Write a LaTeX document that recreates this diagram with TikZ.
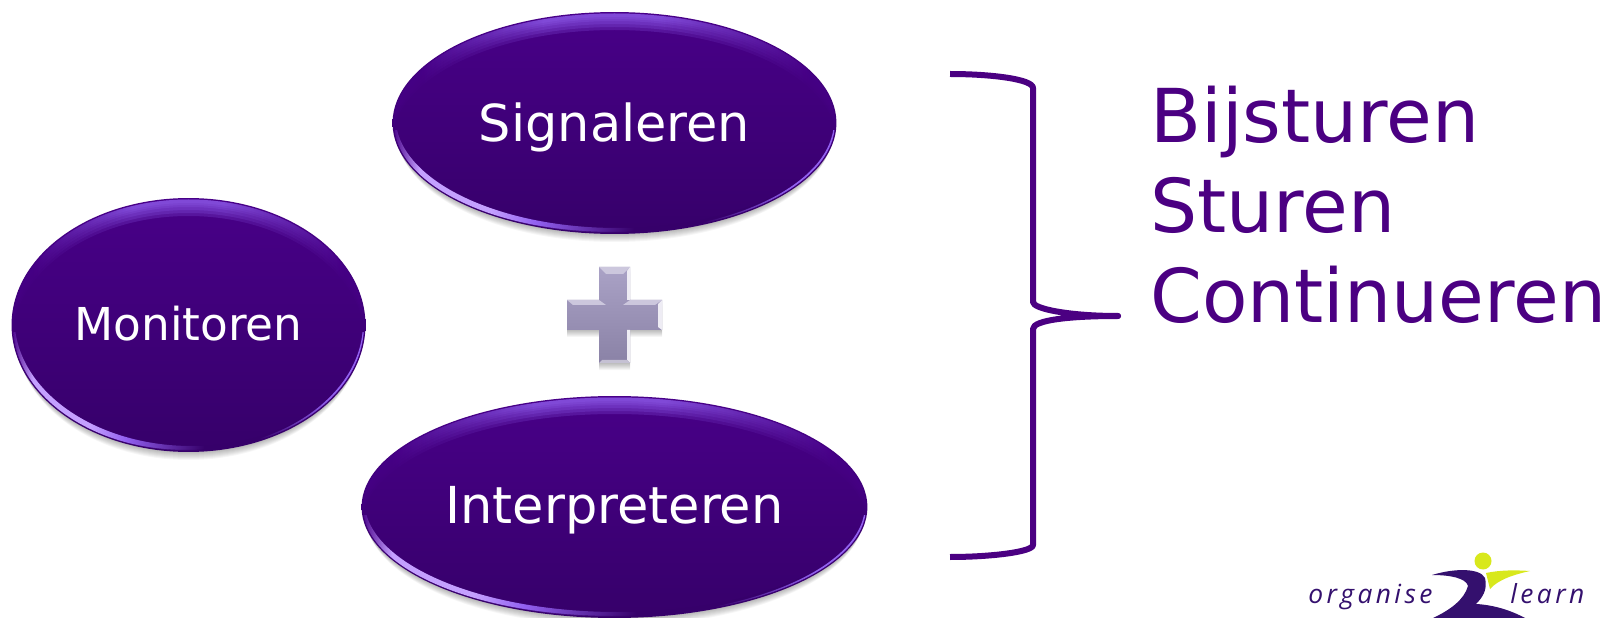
\documentclass[tikz,border=0pt]{standalone}
\usepackage{fontspec}
\setmainfont{DejaVu Sans}
\newfontfamily\logofont[LetterSpace=13]{Open Sans}
\usetikzlibrary{shapes.geometric}
\definecolor{ovaltop}{RGB}{72,0,136}
\definecolor{ovalbottom}{RGB}{54,0,106}
\definecolor{rimlight}{RGB}{146,96,240}
\definecolor{rimbright}{RGB}{196,160,255}
\definecolor{wordpurple}{RGB}{75,0,130}
\definecolor{logopurple}{RGB}{52,16,110}
\definecolor{logoyellow}{RGB}{216,232,28}
\definecolor{plustop}{RGB}{170,162,198}
\definecolor{plusbottom}{RGB}{138,130,166}
\pgfdeclarehorizontalshading{toprim}{100bp}{color(0bp)=(ovaltop); color(28bp)=(ovaltop); color(42bp)=(rimlight); color(55bp)=(rimlight); color(72bp)=(ovaltop); color(100bp)=(ovaltop)}
\pgfdeclarehorizontalshading{leftrim}{100bp}{color(0bp)=(ovaltop); color(25bp)=(ovaltop); color(28bp)=(rimbright); color(36bp)=(rimbright); color(41bp)=(rimlight); color(52bp)=(ovalbottom); color(100bp)=(ovalbottom)}
\pgfdeclarehorizontalshading{rightrim}{100bp}{color(0bp)=(ovalbottom); color(60bp)=(ovalbottom); color(70bp)=(rimlight); color(74bp)=(rimlight); color(100bp)=(rimlight)}
\tikzset{
  oval/.style={
    ellipse,
    top color=ovaltop,
    bottom color=ovalbottom,
    text=white,
    inner sep=0pt,
    font=\fontsize{29}{29}\selectfont
  },
  outcome/.style={
    anchor=base west,
    inner sep=0pt,
    text=wordpurple,
    font=\fontsize{42.3}{42.3}\selectfont
  },
  logotext/.style={
    anchor=base west,
    inner sep=0pt,
    text=logopurple,
    font=\logofont\itshape\fontsize{15}{15}\selectfont
  },
  bracket/.style={
    draw=wordpurple,
    line width=0.12cm,
    line join=round
  }
}
% soft shadow under an oval: x, y, x radius, y radius
\newcommand{\ovalshadow}[4]{
  \foreach \d in {1,...,8}
    \fill[black, opacity=0.035] (#1,#2+\d) ellipse [x radius=#3-\d/2, y radius=#4];
}
% glossy rims of an oval: x, y, x radius, y radius
\newcommand{\ovalrims}[4]{
  \begin{scope}
    \clip (#1,#2) ellipse [x radius=#3-1.5, y radius=#4-1.5];
    \foreach \s in {18,15,12,9,7,5}
      \shade[shading=toprim, even odd rule, opacity=0.22]
        (#1,#2) ellipse [x radius=#3, y radius=#4]
        (#1,#2+\s) ellipse [x radius=#3, y radius=#4];
    \clip (#1-#3,#2+8) rectangle (#1+#3,#2+#4);
    \shade[shading=leftrim, even odd rule]
      (#1,#2) ellipse [x radius=#3, y radius=#4]
      (#1+3,#2-6) ellipse [x radius=#3, y radius=#4];
    \shade[shading=rightrim, even odd rule]
      (#1,#2) ellipse [x radius=#3, y radius=#4]
      (#1-2.5,#2-2) ellipse [x radius=#3, y radius=#4];
  \end{scope}
}

\begin{document}
\begin{tikzpicture}[x=0.02cm, y=-0.02cm]
  \useasboundingbox (0,0) rectangle (1610,618);
  \fill[white] (0,0) rectangle (1610,618);
  % Ovals
  \ovalshadow{188.5}{325}{177}{127}
  \ovalshadow{614.5}{123}{222}{111}
  \ovalshadow{614.5}{507}{253}{111}
  \node[oval, minimum width=7.08cm, minimum height=5.08cm, text height=0.64cm, text depth=0pt,
    font=\fontsize{25.8}{25.8}\selectfont] (monitoren) at (188.5,325) {Monitoren};
  \node[oval, minimum width=8.88cm, minimum height=4.44cm, text height=0.76cm, text depth=0pt]
    (signaleren) at (614.5,123) {Signaleren};
  \node[oval, minimum width=10.12cm, minimum height=4.44cm, text height=0.68cm, text depth=0pt]
    (interpreteren) at (614.5,507) {Interpreteren};
  \ovalrims{188.5}{325}{177}{127}
  \ovalrims{614.5}{123}{222}{111}
  \ovalrims{614.5}{507}{253}{111}
  % Plus sign
  \foreach \d in {1,...,7}
    \fill[black, opacity=0.04] (599,267+\d) -- (630,267+\d) -- (630,300+\d) -- (662,300+\d)
      -- (662,330+\d) -- (630,330+\d) -- (630,363+\d) -- (599,363+\d) -- (599,330+\d)
      -- (567,330+\d) -- (567,300+\d) -- (599,300+\d) -- cycle;
  \shade[top color=plustop, bottom color=plusbottom]
    (599,267) -- (630,267) -- (630,300) -- (662,300) -- (662,330) -- (630,330)
    -- (630,363) -- (599,363) -- (599,330) -- (567,330) -- (567,300) -- (599,300) -- cycle;
  \fill[plustop!60!white] (599,267) -- (630,267) -- (623,274) -- (606,274) -- cycle;
  \fill[plustop!60!white] (567,300) -- (599,300) -- (606,305) -- (573,305) -- cycle;
  \fill[plustop!60!white] (630,300) -- (662,300) -- (655,305) -- (623,305) -- cycle;
  \fill[plustop!20!white] (630,267) -- (630,300) -- (627,300) -- (627,271) -- cycle;
  \fill[plustop!20!white] (662,300) -- (662,330) -- (658,327) -- (658,304) -- cycle;
  \fill[plustop!20!white] (630,330) -- (630,363) -- (627,360) -- (627,330) -- cycle;
  \fill[plusbottom!50!white] (599,363) -- (630,363) -- (627,360) -- (602,360) -- cycle;
  % Bracket
  \coordinate (brackettop) at (950,74);
  \coordinate (bracketbottom) at (950,557);
  \coordinate (brackettip) at (1118,316);
  \draw[bracket] (brackettop) .. controls (990,74) and (1033,79) .. (1033,88) -- (1033,302)
    .. controls (1033,309) and (1070,316) .. (brackettip)
    .. controls (1070,316) and (1033,320) .. (1033,329) -- (1033,545)
    .. controls (1033,552) and (990,557) .. (bracketbottom);
  \fill[wordpurple] (brackettip) circle (3);
  % Words on the right
  \foreach \word/\ypos in {Bijsturen/143, Sturen/233, Continueren/322}
    \node[outcome] (\word) at (1150,\ypos) {\word};
  % Logo
  \node[logotext] (organise) at (1308,603) {organise};
  \node[logotext] (learn) at (1510,603) {learn};
  \fill[logopurple] (1432,575) .. controls (1455,568) and (1480,568) .. (1485,578)
    .. controls (1488,590) and (1482,598) .. (1476,604)
    .. controls (1495,605) and (1512,611) .. (1525,618) -- (1433,618)
    .. controls (1450,610) and (1464,600) .. (1468,586)
    .. controls (1466,578) and (1450,575) .. (1432,575) -- cycle;
  \fill[logoyellow] (1483,561) circle (8.5);
  \fill[logoyellow] (1486,573) .. controls (1500,570) and (1515,570) .. (1530,571)
    .. controls (1512,575) and (1498,580) .. (1490,589) -- cycle;
\end{tikzpicture}
\end{document}
